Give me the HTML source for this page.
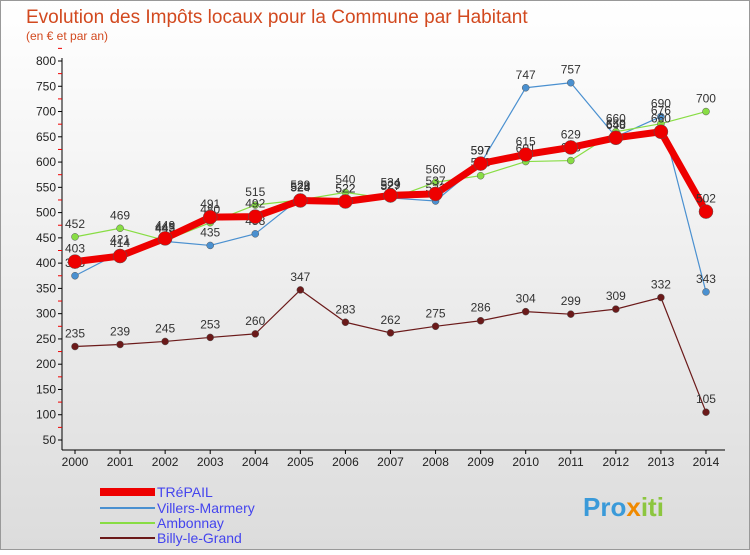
<!DOCTYPE html>
<html><head><meta charset="utf-8"><style>
body{margin:0;width:750px;height:550px;overflow:hidden;font-family:"Liberation Sans",sans-serif}
</style></head><body>
<svg width="750" height="550" xmlns="http://www.w3.org/2000/svg">
<defs><linearGradient id="bg" x1="0" y1="0" x2="0" y2="1"><stop offset="0" stop-color="#fff"/><stop offset="1" stop-color="#dcdcdc"/></linearGradient></defs>
<rect x="0.5" y="0.5" width="749" height="549" fill="url(#bg)" stroke="#999"/>
<text x="26" y="23" font-size="19" fill="#d2491f">Evolution des Impôts locaux pour la Commune par Habitant</text>
<text x="26" y="40" font-size="12" fill="#d2491f">(en € et par an)</text>
<g id="axes"></g>
<g id="series"></g>
<g>
<line x1="100" y1="492" x2="155" y2="492" stroke="#e00" stroke-width="8"/>
<text x="157" y="497" font-size="14" fill="#44e">TRéPAIL</text>
<line x1="100" y1="508" x2="155" y2="508" stroke="#4a90d0" stroke-width="2"/>
<text x="157" y="513" font-size="14" fill="#44e">Villers-Marmery</text>
<line x1="100" y1="523" x2="155" y2="523" stroke="#88dd44" stroke-width="2"/>
<text x="157" y="528" font-size="14" fill="#44e">Ambonnay</text>
<line x1="100" y1="538" x2="155" y2="538" stroke="#6b1a1a" stroke-width="2"/>
<text x="157" y="543" font-size="14" fill="#44e">Billy-le-Grand</text>
</g>
<text x="583" y="516" font-size="26" font-weight="bold" fill="#3a9ad9">Pro<tspan fill="#f08a00">x</tspan><tspan fill="#8cc63f">iti</tspan></text>
</svg>
<script>
const years=[2000,2001,2002,2003,2004,2005,2006,2007,2008,2009,2010,2011,2012,2013,2014];
const yTicks=[50,100,150,200,250,300,350,400,450,500,550,600,650,700,750,800];
const trepail=[403,414,449,491,492,524,522,534,537,597,615,629,648,660,502];
const villers=[375,421,443,435,458,529,522,529,523,597,747,757,650,690,343];
const ambonnay=[452,469,445,480,515,525,540,527,560,573,601,603,660,676,700];
const billy=[235,239,245,253,260,347,283,262,275,286,304,299,309,332,105];
const NS="http://www.w3.org/2000/svg";
const X=i=>75+i*45.07;
const Y=v=>440-(v-50)*(379/750);
function mk(t,a,p){const e=document.createElementNS(NS,t);for(const k in a)e.setAttribute(k,a[k]);p.appendChild(e);return e;}
const ax=document.getElementById('axes');
const yl=mk('line',{x1:62,y1:58,x2:62,y2:450,stroke:'#000'},ax);


const xl=mk('line',{x1:62,y1:450,x2:725,y2:450,stroke:'#000'},ax);


yTicks.forEach(v=>{
 mk('line',{x1:58,y1:Y(v),x2:62,y2:Y(v),stroke:'#000'},ax);
 mk('line',{x1:58,y1:Y(v+25),x2:62,y2:Y(v+25),stroke:'#e00'},ax);
 const t=mk('text',{x:56,y:Y(v)+4,'font-size':12,'text-anchor':'end',fill:'#222'},ax);
 t.textContent=v;
 
 
});
years.forEach((y,i)=>{
 mk('line',{x1:X(i),y1:450,x2:X(i),y2:454,stroke:'#000'},ax);
 const t=mk('text',{x:X(i),y:466,'font-size':12,'text-anchor':'middle',fill:'#222'},ax);
 t.textContent=y;
 
 
});
const sg=document.getElementById('series');
function draw(data,color,w,r,name){
 const g=mk('g',{},sg);
 
 
 const pl=mk('polyline',{points:data.map((v,i)=>X(i)+','+Y(v)).join(' '),fill:'none',stroke:color,'stroke-width':w,'stroke-linejoin':'round'},g);
 
 
 data.forEach((v,i)=>{
  const c=mk('circle',{cx:X(i),cy:Y(v),r:r,fill:color,stroke:'#555','stroke-width':0.5},g);
  
  
  const t=mk('text',{x:X(i),y:Y(v)-9,'font-size':12,'text-anchor':'middle',fill:'#333'},g);
  t.textContent=v;
  
  
 });
}
draw(billy,'#6b1a1a',1.2,3.5,'billy');
draw(villers,'#4a90d0',1.2,3.5,'villers');
draw(ambonnay,'#88dd44',1.2,3.5,'ambonnay');
draw(trepail,'#ee0000',7,7,'trepail');
</script>
</body></html>
